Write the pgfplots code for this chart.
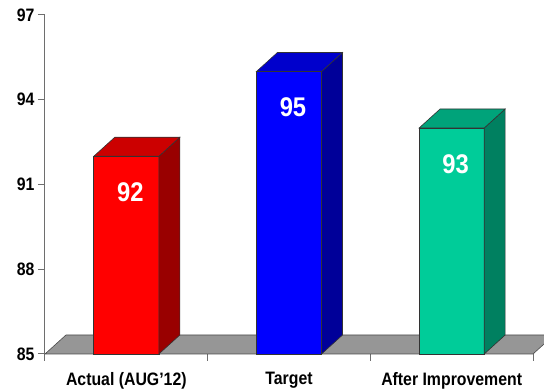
\documentclass[border=0pt]{standalone}
\usepackage{fontspec}
\setmainfont{Liberation Sans}[FakeStretch=0.88]
\usepackage{pgfplots}
\pgfplotsset{compat=1.18}
\definecolor{redF}{RGB}{255,0,0}
\definecolor{redT}{RGB}{204,0,0}
\definecolor{redS}{RGB}{153,0,0}
\definecolor{bluF}{RGB}{0,0,255}
\definecolor{bluT}{RGB}{0,0,204}
\definecolor{bluS}{RGB}{0,0,153}
\definecolor{tealF}{RGB}{0,204,153}
\definecolor{tealT}{RGB}{0,163,122}
\definecolor{tealS}{RGB}{0,128,96}
\definecolor{floorC}{RGB}{150,150,150}
\definecolor{axC}{RGB}{110,110,110}
\begin{document}
\begin{tikzpicture}
\clip (-45pt,-37pt) rectangle (499pt,354pt);
\begin{axis}[
  scale only axis, width=488pt, height=339pt,
  xmin=-0.5, xmax=2.5, ymin=85, ymax=97,
  clip=false,
  axis lines=left,
  axis line style={axC, line width=1pt, -},
  ytick={85,88,91,94,97},
  xtick={-0.5,0.5,1.5,2.5},
  x tick label as interval,
  xticklabels={Actual (AUG'12), Target, After Improvement},
  tick align=outside,
  major tick length=7pt,
  tick style={axC, line width=1pt},
  ticklabel style={font=\fontsize{18}{20}\selectfont\bfseries},
  xticklabel style={yshift=-8pt},
  /pgf/number format/assume math mode=true,
]
% floor
\addplot[fill=floorC, draw=black!70, line width=0.6pt] coordinates {(-0.5,85) (2.5,85) (2.629,85.673) (-0.371,85.673)} -- cycle;
% red bar (92)
\addplot[fill=redF, draw=black!80, line width=0.6pt] coordinates {(-0.2,85) (0.2,85) (0.2,92) (-0.2,92)} -- cycle;
\addplot[fill=redS, draw=black!80, line width=0.6pt] coordinates {(0.2,85) (0.329,85.673) (0.329,92.673) (0.2,92)} -- cycle;
\addplot[fill=redT, draw=black!80, line width=0.6pt] coordinates {(-0.2,92) (0.2,92) (0.329,92.673) (-0.071,92.673)} -- cycle;
% blue bar (95)
\addplot[fill=bluF, draw=black!80, line width=0.6pt] coordinates {(0.8,85) (1.2,85) (1.2,95) (0.8,95)} -- cycle;
\addplot[fill=bluS, draw=black!80, line width=0.6pt] coordinates {(1.2,85) (1.329,85.673) (1.329,95.673) (1.2,95)} -- cycle;
\addplot[fill=bluT, draw=black!80, line width=0.6pt] coordinates {(0.8,95) (1.2,95) (1.329,95.673) (0.929,95.673)} -- cycle;
% teal bar (93)
\addplot[fill=tealF, draw=black!80, line width=0.6pt] coordinates {(1.8,85) (2.2,85) (2.2,93) (1.8,93)} -- cycle;
\addplot[fill=tealS, draw=black!80, line width=0.6pt] coordinates {(2.2,85) (2.329,85.673) (2.329,93.673) (2.2,93)} -- cycle;
\addplot[fill=tealT, draw=black!80, line width=0.6pt] coordinates {(1.8,93) (2.2,93) (2.329,93.673) (1.929,93.673)} -- cycle;
% value labels
\addplot[only marks, mark=none, nodes near coords,
  nodes near coords style={anchor=center, yshift=-36pt, xshift=4pt, text=white,
    font=\fontsize{27}{29}\selectfont\bfseries}]
  coordinates {(0,92) (1,95) (2,93)};
\end{axis}
\end{tikzpicture}
\end{document}
